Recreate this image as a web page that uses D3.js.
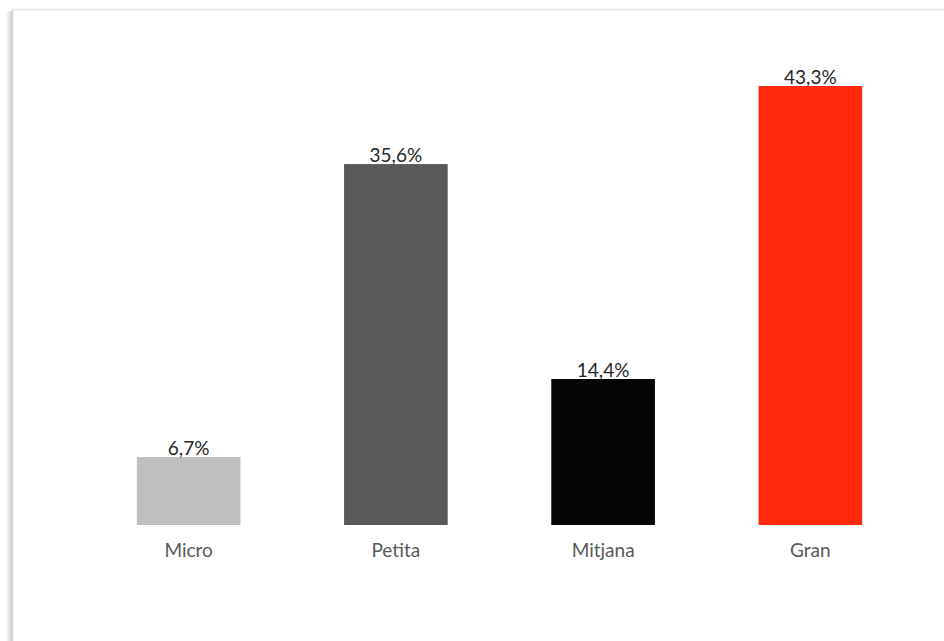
<!DOCTYPE html>
<html>
<head>
<meta charset="utf-8">
<script src="https://cdn.jsdelivr.net/npm/d3@7"></script>
<style>
  html, body { margin: 0; padding: 0; background: #fff; }
  svg { display: block; }
</style>
</head>
<body>
<svg id="chart" width="944" height="641"></svg>
<script>
// Share of companies by size
const categories = ["Micro", "Petita", "Mitjana", "Gran"];
const values = [6.7, 35.6, 14.4, 43.3];
const valueLabels = ["6,7%", "35,6%", "14,4%", "43,3%"];
const colors = ["#bfbfbf", "#595959", "#050505", "#ff2a0d"];

const svg = d3.select("#chart");
const W = 944, H = 641;

// chart area frame with a soft shadow on its left edge
const defs = svg.append("defs");
const grad = defs.append("linearGradient").attr("id", "leftShade")
  .attr("x1", 0).attr("x2", 1).attr("y1", 0).attr("y2", 0);
grad.append("stop").attr("offset", 0).attr("stop-color", "#ffffff");
grad.append("stop").attr("offset", 0.5).attr("stop-color", "#e4e4e4");
grad.append("stop").attr("offset", 1).attr("stop-color", "#cfcfcf");
svg.append("rect").attr("x", 6).attr("y", 11).attr("width", 6).attr("height", H - 11)
  .attr("fill", "url(#leftShade)");
svg.append("line").attr("x1", 12).attr("x2", W).attr("y1", 9.5).attr("y2", 9.5)
  .attr("stroke", "#e8e8e8").attr("stroke-width", 2);
svg.append("line").attr("x1", 12.5).attr("x2", 12.5).attr("y1", 10).attr("y2", H)
  .attr("stroke", "#d4d4d4").attr("stroke-width", 1.5);

const baseY = 525;
const x = d3.scaleBand().domain(categories).range([85, 914]).paddingInner(0.5).paddingOuter(0.25);
const y = d3.scaleLinear().domain([0, 43.3]).range([baseY, 86]);

const font = "Lato, 'Open Sans', sans-serif";

svg.append("g").selectAll("rect")
  .data(values)
  .join("rect")
  .attr("x", (d, i) => x(categories[i]))
  .attr("y", d => y(d))
  .attr("width", x.bandwidth())
  .attr("height", d => baseY - y(d))
  .attr("fill", (d, i) => colors[i]);

svg.append("g").selectAll("text")
  .data(values)
  .join("text")
  .attr("x", (d, i) => x(categories[i]) + x.bandwidth() / 2)
  .attr("y", d => y(d) - 2)
  .attr("text-anchor", "middle")
  .attr("font-family", font)
  .attr("font-size", 19)
  .attr("fill", "#262626")
  .text((d, i) => valueLabels[i]);

const xAxis = d3.axisBottom(x).tickSize(0).tickPadding(0);
const gx = svg.append("g").attr("transform", `translate(0,${baseY})`).call(xAxis);
gx.select(".domain").remove();
gx.selectAll("text")
  .attr("dy", 0)
  .attr("y", 32)
  .attr("font-family", font)
  .attr("font-size", 19)
  .attr("fill", "#595959");
</script>
</body>
</html>
